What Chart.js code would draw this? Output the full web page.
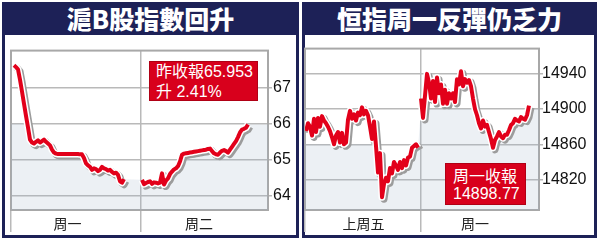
<!DOCTYPE html>
<html>
<head>
<meta charset="utf-8">
<script src="https://cdn.jsdelivr.net/npm/chart.js@4.4.1/dist/chart.umd.min.js"></script>
<style>
    html, body { margin: 0; padding: 0; background: #fff; }
    body { width: 600px; height: 243px; position: relative; overflow: hidden; font-family: "Noto Sans CJK TC", "Liberation Sans", sans-serif; }
    .panel { position: absolute; top: 2px; height: 236px; box-sizing: border-box; border: 3px solid #1d2157; border-top: 0; background: #fff; }
    .title { height: 33px; background: #1d2157; color: #fff; font-weight: 900; font-size: 25px; line-height: 33px; text-align: center; }
    canvas { position: absolute; }
    .box { position: absolute; box-sizing: border-box; background: #d8001c; border: 1px solid #b00015; color: #fff; font-family: "Liberation Sans", "Noto Sans CJK TC", sans-serif; font-size: 16px; white-space: nowrap; }
</style>
</head>
<body>
<div class="panel" style="left:2px;width:297px;"><div class="title">滬B股指數回升</div></div>
<div class="panel" style="left:302px;width:295px;"><div class="title">恒指周一反彈仍乏力</div></div>

<canvas id="chartB" width="287" height="192" style="left:9px;top:40px;"></canvas>
<canvas id="chartHSI" width="291" height="192" style="left:303px;top:40px;"></canvas>

<div class="box" style="left:149px;top:61px;width:109px;height:40px;line-height:20px;padding:0 0 0 6px;">昨收報65.953<br>升 2.41%</div>
<div class="box" style="left:445px;top:163px;width:81px;height:42px;line-height:17px;padding:4px 0 0 7px;">周一收報<br>14898.77</div>

<script>
(function () {
    'use strict';

    // ===== DATA: 滬B股指數 =====
    const bDays = ['周一', '周二'];
    const bMonday = [
        67.63, 67.58, 67.52, 67.23, 66.9, 66.56, 66.22, 65.9, 65.56, 65.48,
        65.45, 65.5, 65.54, 65.48, 65.52, 65.56, 65.5, 65.45, 65.4, 65.28,
        65.2, 65.17, 65.16, 65.16, 65.16, 65.16, 65.16, 65.16, 65.16, 65.16,
        65.16, 65.16, 65.16, 65.15, 65.15, 65.05, 64.9, 64.84, 64.8, 64.72,
        64.76, 64.74, 64.68, 64.72, 64.8, 64.76, 64.74, 64.7, 64.72, 64.66,
        64.62, 64.64, 64.58, 64.4, 64.36, 64.46
    ];
    const bTuesday = [
        64.44, 64.32, 64.35, 64.38, 64.4, 64.33, 64.37, 64.36, 64.34, 64.36,
        64.62, 64.31, 64.42, 64.48, 64.6, 64.67, 64.73, 64.76, 64.82, 64.95,
        65.14, 65.17, 65.18, 65.19, 65.2, 65.21, 65.22, 65.23, 65.24, 65.25,
        65.26, 65.27, 65.28, 65.3, 65.31, 65.24, 65.18, 65.15, 65.14, 65.2,
        65.25, 65.27, 65.24, 65.2, 65.28, 65.36, 65.44, 65.52, 65.63, 65.76,
        65.84, 65.86, 65.89, 65.98
    ];
    const bTicks = [64, 65, 66, 67];
    const bShadeCaps = [66, 66];

    // ===== DATA: 恒指 =====
    const hsiDays = ['上周五', '周一'];
    const hsiFriday = [
        14875, 14884, 14880, 14870, 14889, 14874, 14890, 14880, 14892, 14887,
        14884, 14880, 14875, 14868, 14860, 14870, 14874, 14862, 14873, 14860,
        14862, 14888, 14898, 14889, 14894, 14887, 14896, 14893, 14902, 14894,
        14898, 14893, 14880, 14866, 14886, 14858, 14828, 14850, 14800, 14815,
        14822, 14818, 14833, 14827, 14840, 14836, 14831, 14840, 14833, 14842,
        14836, 14845, 14846, 14856, 14858, 14860, 14856
    ];
    const hsiMonday = [
        14912, 14890, 14915, 14940, 14930, 14912, 14932, 14908, 14936, 14918,
        14928, 14906, 14922, 14906, 14918, 14912, 14918, 14908, 14934, 14928,
        14943, 14926, 14934, 14930, 14933, 14926, 14912, 14900, 14893, 14884,
        14878, 14887, 14880, 14882, 14874, 14866, 14856, 14865, 14869, 14874,
        14869, 14867, 14871, 14871, 14876, 14882, 14884, 14889, 14887, 14886,
        14891, 14889, 14888, 14893, 14904
    ];
    const hsiTicks = [14820, 14860, 14900, 14940];
    const hsiShadeCaps = [14860, 14900];

    // ===== STYLE =====
    const RED = '#e2001a';
    const GRID = '#b9b9b9';
    const FRAME = '#a8a8a8';
    const SHADE = 'rgba(160, 178, 200, 0.2)';

    // vẽ khung quanh vùng biểu đồ
    const framePlugin = {
        id: 'frame',
        beforeDatasetsDraw(chart) {
            const a = chart.chartArea;
            const ctx = chart.ctx;
            ctx.save();
            ctx.strokeStyle = FRAME;
            ctx.lineWidth = 2;
            ctx.strokeRect(a.left, a.top, a.right - a.left, a.bottom - a.top);
            ctx.restore();
        }
    };

    // bóng xám cho viền trắng của đường
    const shadowPlugin = {
        id: 'lineShadow',
        beforeDatasetDraw(chart, args) {
            if (args.index !== 1) return;
            const ctx = chart.ctx;
            ctx.save();
            ctx.shadowColor = '#9c9c9c';
            ctx.shadowOffsetX = 2;
            ctx.shadowOffsetY = 2;
            ctx.shadowBlur = 0;
        },
        afterDatasetDraw(chart, args) {
            if (args.index === 1) chart.ctx.restore();
        }
    };

    function buildPoints(days, starts) {
        const pts = [];
        days.forEach(function (vals, d) {
            if (d > 0) pts.push({ x: starts[d] - 0.5, y: null });
            vals.forEach(function (v, i) { pts.push({ x: starts[d] + i, y: v }); });
        });
        return pts;
    }

    function buildShade(days, starts, caps, xMax) {
        const pts = [];
        days.forEach(function (vals, d) {
            vals.forEach(function (v, i) { pts.push({ x: starts[d] + i, y: Math.min(v, caps[d]) }); });
        });
        pts.unshift({ x: 0, y: pts[0].y });
        pts.push({ x: xMax, y: pts[pts.length - 1].y });
        return pts;
    }

    function makeChart(id, cfg) {
        const line = buildPoints(cfg.days, cfg.starts);
        const shade = buildShade(cfg.days, cfg.starts, cfg.caps, cfg.xMax);
        const xTickVals = cfg.seps.concat(cfg.labelPos);

        return new Chart(document.getElementById(id), {
            type: 'line',
            data: {
                datasets: [
                    { data: line, borderColor: RED, borderWidth: 4, pointRadius: 0, fill: false, spanGaps: false, borderJoinStyle: 'round', tension: 0 },
                    { data: line, borderColor: '#fff', borderWidth: 7, pointRadius: 0, fill: false, spanGaps: false, borderJoinStyle: 'round', tension: 0 },
                    { data: shade, borderColor: 'rgba(0,0,0,0)', borderWidth: 0, backgroundColor: SHADE, fill: 'start', pointRadius: 0, tension: 0 }
                ]
            },
            options: {
                responsive: false,
                animation: false,
                events: [],
                layout: { padding: { left: 2, top: 2, right: 0, bottom: 0 } },
                plugins: { legend: { display: false }, tooltip: { enabled: false } },
                scales: {
                    x: {
                        type: 'linear',
                        min: 0,
                        max: cfg.xMax,
                        border: { display: false },
                        grid: {
                            lineWidth: 1.5,
                            tickLength: 22,
                            color: function (c) { return c.tick && cfg.seps.indexOf(c.tick.value) >= 0 ? GRID : 'rgba(0,0,0,0)'; },
                            tickColor: function (c) { return c.tick && cfg.seps.indexOf(c.tick.value) >= 0 ? GRID : 'rgba(0,0,0,0)'; }
                        },
                        ticks: {
                            autoSkip: false,
                            maxRotation: 0,
                            padding: -17,
                            color: '#222',
                            font: { family: '"Noto Sans CJK TC"', size: 14 },
                            callback: function (v) {
                                const k = cfg.labelPos.indexOf(v);
                                return k >= 0 ? cfg.labels[k] : '';
                            }
                        },
                        afterBuildTicks: function (s) { s.ticks = xTickVals.map(function (v) { return { value: v }; }); },
                        afterFit: function (s) { s.height = 22; }
                    },
                    y: {
                        position: 'right',
                        min: cfg.yMin,
                        max: cfg.yMax,
                        border: { display: false },
                        grid: { color: GRID, lineWidth: 1.5, tickLength: 4 },
                        ticks: {
                            padding: cfg.yPad,
                            color: '#111',
                            font: { family: '"Liberation Sans", Arial, sans-serif', size: cfg.yFont },
                            callback: function (v) { return String(v); }
                        },
                        afterBuildTicks: function (s) { s.ticks = cfg.yTicks.map(function (v) { return { value: v }; }); },
                        afterFit: function (s) { s.width = cfg.yWidth; }
                    }
                }
            },
            plugins: [framePlugin, shadowPlugin]
        });
    }

    document.addEventListener('DOMContentLoaded', function () {
        // 1 slot = 2px trên trục x
        makeChart('chartB', {
            days: [bMonday, bTuesday],
            starts: [1.5, 65.5],
            caps: bShadeCaps,
            xMax: 128.5,
            seps: [0, 65],
            labelPos: [28.25, 94],
            labels: bDays,
            yMin: 63.6,
            yMax: 68.04,
            yTicks: bTicks,
            yPad: 1,
            yFont: 16,
            yWidth: 28
        });

        makeChart('chartHSI', {
            days: [hsiFriday, hsiMonday],
            starts: [0.5, 58],
            caps: hsiShadeCaps,
            xMax: 117,
            seps: [0, 58],
            labelPos: [29.25, 85],
            labels: hsiDays,
            yMin: 14785.4,
            yMax: 14968.7,
            yTicks: hsiTicks,
            yPad: -1,
            yFont: 16,
            yWidth: 55
        });
    });
})();
</script>
</body>
</html>
